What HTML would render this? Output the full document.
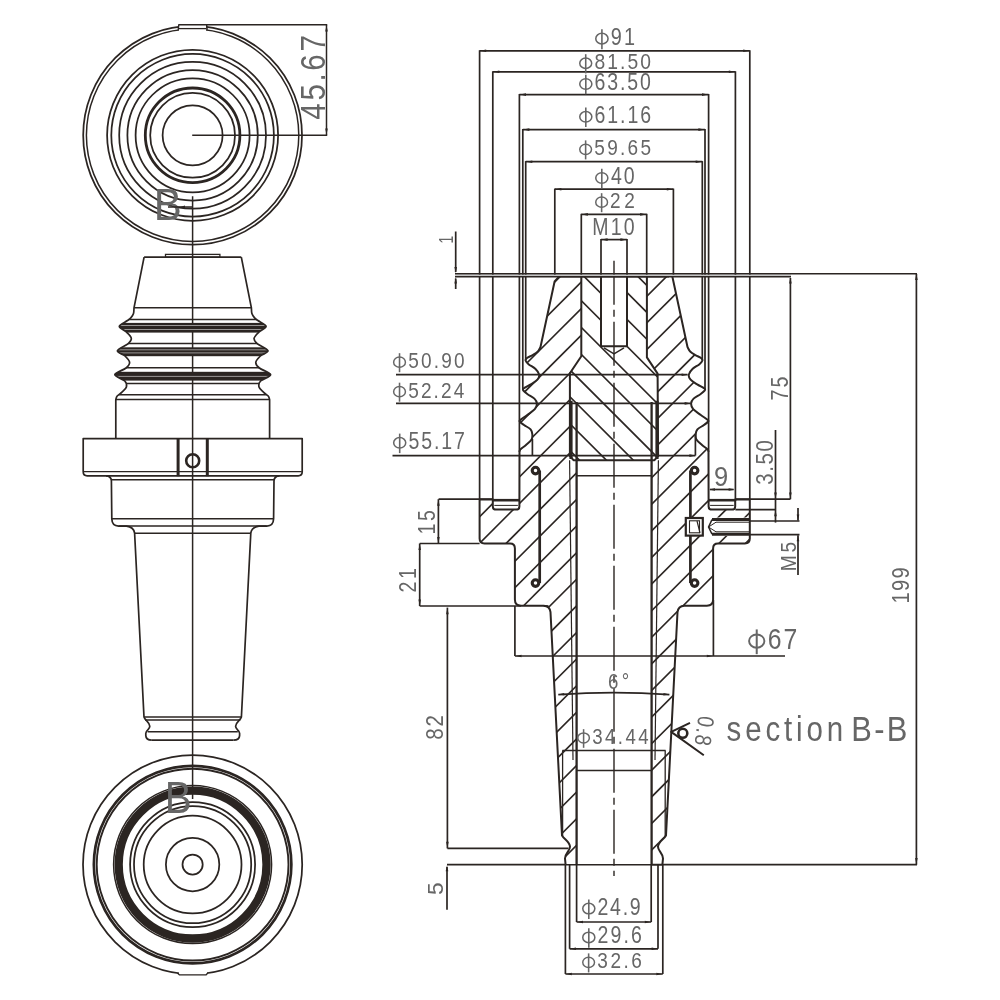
<!DOCTYPE html>
<html><head><meta charset="utf-8"><style>
html,body{margin:0;padding:0;background:#fff;}
svg{display:block;will-change:transform;}
text{font-family:"Liberation Sans",sans-serif;}
</style></head><body>
<svg width="1000" height="1000" viewBox="0 0 1000 1000">
<rect width="1000" height="1000" fill="#fff"/>
<circle cx="192.6" cy="135.3" r="109.4" fill="none" stroke="#2b2522" stroke-width="1.75"/>
<circle cx="192.6" cy="135.3" r="106.2" fill="none" stroke="#2b2522" stroke-width="1.5"/>
<circle cx="192.6" cy="135.3" r="85.5" fill="none" stroke="#2b2522" stroke-width="1.75"/>
<circle cx="192.6" cy="135.3" r="81.3" fill="none" stroke="#2b2522" stroke-width="1.75"/>
<circle cx="192.6" cy="135.3" r="73.4" fill="none" stroke="#2b2522" stroke-width="1.75"/>
<circle cx="192.6" cy="135.3" r="65.2" fill="none" stroke="#2b2522" stroke-width="1.75"/>
<circle cx="192.6" cy="135.3" r="57" fill="none" stroke="#2b2522" stroke-width="1.75"/>
<circle cx="192.6" cy="135.3" r="47.3" fill="none" stroke="#2b2522" stroke-width="2.8"/>
<circle cx="192.6" cy="135.3" r="42.4" fill="none" stroke="#2b2522" stroke-width="1.75"/>
<circle cx="192.6" cy="135.3" r="30" fill="none" stroke="#2b2522" stroke-width="1.75"/>
<rect x="179" y="22" width="27" height="9" fill="#fff"/>
<path d="M178.2 29.8 L178.8 24.7 L206.6 24.7 L207.2 29.8" fill="none" stroke="#2b2522" stroke-width="1.4" stroke-linejoin="round"/>
<line x1="178.8" y1="28.6" x2="206.6" y2="28.6" stroke="#2b2522" stroke-width="1.3"/>
<line x1="206.6" y1="24.7" x2="327.2" y2="24.7" stroke="#2b2522" stroke-width="1.6"/>
<line x1="192.2" y1="135.2" x2="327.2" y2="135.2" stroke="#2b2522" stroke-width="1.6"/>
<line x1="326.5" y1="24.7" x2="326.5" y2="135.2" stroke="#2b2522" stroke-width="1.5"/>
<path d="M326.5 25.4 L327.8 31.4 L325.2 31.4Z" fill="#2b2522"/>
<path d="M326.5 134.5 L325.2 128.5 L327.8 128.5Z" fill="#2b2522"/>
<text x="0" y="0" transform="translate(324.7 119.68) rotate(-90) scale(0.84 1)" font-size="35.17" fill="#666666" textLength="100.67" lengthAdjust="spacing">45.67</text>
<text x="0" y="0" transform="translate(153.78 219.5) scale(0.95 1)" font-size="44.33" fill="#666666">B</text>
<line x1="168" y1="207" x2="192.6" y2="207" stroke="#2b2522" stroke-width="1.5"/>
<path d="M180 207 L185 205.6 L185 208.4Z" fill="#2b2522"/>
<line x1="192.6" y1="196.2" x2="192.6" y2="799" stroke="#2b2522" stroke-width="1.5"/>
<defs><clipPath id="sideclip"><path d="M144.1 257.2 L134 307.8 C133.92 308.75 134 311.87 133.5 313.5 C133 315.13 132 316.43 131 317.6 C130 318.77 129.45 319.05 127.5 320.5 C125.55 321.95 119.5 324.38 119.3 326.3 C119.1 328.22 124.3 330.02 126.3 332 C128.3 333.98 130.98 336.27 131.3 338.2 C131.62 340.13 130.52 341.52 128.2 343.6 C125.88 345.68 117.93 348.63 117.4 350.7 C116.87 352.77 122.97 354.05 125 356 C127.03 357.95 129.43 360.4 129.6 362.4 C129.77 364.4 128.47 365.95 126 368 C123.53 370.05 115 372.53 114.8 374.7 C114.6 376.87 122.87 378.95 124.8 381 C126.73 383.05 126.87 385.13 126.4 387 C125.93 388.87 123.53 390.7 122 392.2 C120.47 393.7 118.23 394.77 117.2 396 C116.17 397.23 116.03 399 115.8 399.6 L115.8 438.6 L269.6 438.6 L269.6 399.6 C269.37 399 269.23 397.23 268.2 396 C267.17 394.77 264.93 393.7 263.4 392.2 C261.87 390.7 259.47 388.87 259 387 C258.53 385.13 258.67 383.05 260.6 381 C262.53 378.95 270.8 376.87 270.6 374.7 C270.4 372.53 261.87 370.05 259.4 368 C256.93 365.95 255.63 364.4 255.8 362.4 C255.97 360.4 258.37 357.95 260.4 356 C262.43 354.05 268.53 352.77 268 350.7 C267.47 348.63 259.52 345.68 257.2 343.6 C254.88 341.52 253.78 340.13 254.1 338.2 C254.42 336.27 257.1 333.98 259.1 332 C261.1 330.02 266.3 328.22 266.1 326.3 C265.9 324.38 259.85 321.95 257.9 320.5 C255.95 319.05 255.4 318.77 254.4 317.6 C253.4 316.43 252.4 315.13 251.9 313.5 C251.4 311.87 251.48 308.75 251.4 307.8 L241.3 257.2Z"/></clipPath></defs>
<g clip-path="url(#sideclip)">
<rect x="100" y="322.9" width="190" height="9.7" fill="#2b2522"/>
<rect x="100" y="347.3" width="190" height="8.9" fill="#2b2522"/>
<rect x="100" y="371.8" width="190" height="8.8" fill="#2b2522"/>
<line x1="100" y1="325.5" x2="290" y2="325.5" stroke="#fff" stroke-width="0.7" stroke-opacity="0.75"/>
<line x1="100" y1="329.5" x2="290" y2="329.5" stroke="#fff" stroke-width="0.7" stroke-opacity="0.75"/>
<line x1="100" y1="349.8" x2="290" y2="349.8" stroke="#fff" stroke-width="0.7" stroke-opacity="0.75"/>
<line x1="100" y1="352.9" x2="290" y2="352.9" stroke="#fff" stroke-width="0.7" stroke-opacity="0.75"/>
<line x1="100" y1="376.4" x2="290" y2="376.4" stroke="#fff" stroke-width="0.7" stroke-opacity="0.75"/>
</g>
<path d="M144.1 257.2 L134.0 307.8 C133.92 308.75 134 311.87 133.5 313.5 C133 315.13 132 316.43 131 317.6 C130 318.77 129.45 319.05 127.5 320.5 C125.55 321.95 119.5 324.38 119.3 326.3 C119.1 328.22 124.3 330.02 126.3 332 C128.3 333.98 130.98 336.27 131.3 338.2 C131.62 340.13 130.52 341.52 128.2 343.6 C125.88 345.68 117.93 348.63 117.4 350.7 C116.87 352.77 122.97 354.05 125 356 C127.03 357.95 129.43 360.4 129.6 362.4 C129.77 364.4 128.47 365.95 126 368 C123.53 370.05 115 372.53 114.8 374.7 C114.6 376.87 122.87 378.95 124.8 381 C126.73 383.05 126.87 385.13 126.4 387 C125.93 388.87 123.53 390.7 122 392.2 C120.47 393.7 118.23 394.77 117.2 396 C116.17 397.23 116.03 399 115.8 399.6 L115.8 438.6" fill="none" stroke="#2b2522" stroke-width="1.7" stroke-linejoin="round"/>
<path d="M241.3 257.2 L251.4 307.8 C251.48 308.75 251.4 311.87 251.9 313.5 C252.4 315.13 253.4 316.43 254.4 317.6 C255.4 318.77 255.95 319.05 257.9 320.5 C259.85 321.95 265.9 324.38 266.1 326.3 C266.3 328.22 261.1 330.02 259.1 332 C257.1 333.98 254.42 336.27 254.1 338.2 C253.78 340.13 254.88 341.52 257.2 343.6 C259.52 345.68 267.47 348.63 268 350.7 C268.53 352.77 262.43 354.05 260.4 356 C258.37 357.95 255.97 360.4 255.8 362.4 C255.63 364.4 256.93 365.95 259.4 368 C261.87 370.05 270.4 372.53 270.6 374.7 C270.8 376.87 262.53 378.95 260.6 381 C258.67 383.05 258.53 385.13 259 387 C259.47 388.87 261.87 390.7 263.4 392.2 C264.93 393.7 267.17 394.77 268.2 396 C269.23 397.23 269.37 399 269.6 399.6 L269.6 438.6" fill="none" stroke="#2b2522" stroke-width="1.7" stroke-linejoin="round"/>
<rect x="165.5" y="254.4" width="54.4" height="2.8" fill="none" stroke="#2b2522" stroke-width="1.3"/>
<line x1="144.1" y1="257.2" x2="241.3" y2="257.2" stroke="#2b2522" stroke-width="1.7"/>
<g clip-path="url(#sideclip)">
<line x1="100" y1="307.8" x2="290" y2="307.8" stroke="#2b2522" stroke-width="1.5"/>
<line x1="100" y1="319.5" x2="290" y2="319.5" stroke="#2b2522" stroke-width="1.5"/>
<line x1="100" y1="343.6" x2="290" y2="343.6" stroke="#2b2522" stroke-width="1.5"/>
<line x1="100" y1="367.7" x2="290" y2="367.7" stroke="#2b2522" stroke-width="1.5"/>
<line x1="100" y1="383.4" x2="290" y2="383.4" stroke="#2b2522" stroke-width="1.5"/>
<line x1="100" y1="394.8" x2="290" y2="394.8" stroke="#2b2522" stroke-width="1.5"/>
<line x1="100" y1="399.4" x2="290" y2="399.4" stroke="#2b2522" stroke-width="1.5"/>
</g>
<path d="M83.2 438.6 L302.2 438.6 L302.2 471.8 Q302.2 475.8 298.2 475.8 L87.2 475.8 Q83.2 475.8 83.2 471.8 Z" fill="none" stroke="#2b2522" stroke-width="1.7" stroke-linejoin="round"/>
<line x1="83.6" y1="471.6" x2="301.8" y2="471.6" stroke="#2b2522" stroke-width="1.2"/>
<line x1="178.1" y1="438.6" x2="178.1" y2="476.2" stroke="#2b2522" stroke-width="3.0"/>
<line x1="207.3" y1="438.6" x2="207.3" y2="476.2" stroke="#2b2522" stroke-width="3.0"/>
<circle cx="192.7" cy="460.7" r="6.5" fill="none" stroke="#2b2522" stroke-width="2.6"/>
<path d="M106 475.8 Q111.2 476 111.4 480.8 L111.8 518.8 Q112 526 118.6 526.1 L126.5 526.2 Q133.6 527 134.6 533 L144.0 717.0 C145 720.5 149.6 722 149.8 726.2 C149.9 729.5 146 730 145.8 733.2 L145.8 735.6 Q146 740 151.8 740.1" fill="none" stroke="#2b2522" stroke-width="1.7" stroke-linejoin="round"/>
<path d="M279.4 475.8 Q274.2 476 274 480.8 L273.6 518.8 Q273.4 526 266.8 526.1 L258.9 526.2 Q251.8 527 250.8 533 L241.4 717.0 C240.4 720.5 235.8 722 235.6 726.2 C235.5 729.5 239.4 730 239.6 733.2 L239.6 735.6 Q239.4 740 233.6 740.1" fill="none" stroke="#2b2522" stroke-width="1.7" stroke-linejoin="round"/>
<line x1="151.8" y1="740.1" x2="233.6" y2="740.1" stroke="#2b2522" stroke-width="1.7"/>
<line x1="111.2" y1="479.8" x2="274.2" y2="479.8" stroke="#2b2522" stroke-width="1.5"/>
<line x1="111.8" y1="518.8" x2="273.6" y2="518.8" stroke="#2b2522" stroke-width="1.5"/>
<line x1="118.6" y1="526.1" x2="266.8" y2="526.1" stroke="#2b2522" stroke-width="1.5"/>
<line x1="134.6" y1="533.2" x2="250.8" y2="533.2" stroke="#2b2522" stroke-width="1.5"/>
<line x1="144" y1="716.9" x2="241.4" y2="716.9" stroke="#2b2522" stroke-width="1.5"/>
<line x1="145" y1="720" x2="240.4" y2="720" stroke="#2b2522" stroke-width="1.5"/>
<line x1="147.6" y1="731.8" x2="237.8" y2="731.8" stroke="#2b2522" stroke-width="1.5"/>
<circle cx="192.6" cy="864.6" r="109.6" fill="none" stroke="#2b2522" stroke-width="1.75"/>
<circle cx="192.6" cy="864.6" r="98.75" fill="none" stroke="#2b2522" stroke-width="2.7"/>
<circle cx="192.6" cy="864.6" r="95.9" fill="none" stroke="#2b2522" stroke-width="1.9"/>
<circle cx="192.6" cy="864.6" r="79" fill="none" stroke="#2b2522" stroke-width="1.5"/>
<circle cx="192.6" cy="864.6" r="73.9" fill="none" stroke="#2b2522" stroke-width="8.3"/>
<circle cx="192.6" cy="864.6" r="62.5" fill="none" stroke="#2b2522" stroke-width="1.75"/>
<circle cx="192.6" cy="864.6" r="58.6" fill="none" stroke="#2b2522" stroke-width="1.75"/>
<circle cx="192.6" cy="864.6" r="48.9" fill="none" stroke="#2b2522" stroke-width="1.75"/>
<circle cx="192.6" cy="864.6" r="26.7" fill="none" stroke="#2b2522" stroke-width="1.75"/>
<circle cx="192.6" cy="864.6" r="10.1" fill="none" stroke="#2b2522" stroke-width="1.75"/>
<rect x="179" y="972" width="28" height="4" fill="#fff"/>
<path d="M177.4 973 L179.3 974.8 L206.2 974.8 L207.8 973" fill="none" stroke="#2b2522" stroke-width="1.3" stroke-linejoin="round"/>
<text x="0" y="0" transform="translate(164.8 813.3) scale(0.92 1)" font-size="43.9" fill="#666666">B</text>
<defs>
<clipPath id="bodyclip"><path clip-rule="evenodd" d="M559 276.8 L554.6 281.5 L540.5 347 L540.21 347.54 L539.84 348.29 L539.39 349.18 L538.86 350.12 L538.26 351.02 L537.6 351.8 L536.84 352.47 L535.98 353.09 L535.04 353.68 L534.08 354.24 L533.12 354.78 L532.2 355.3 L531.28 355.8 L530.31 356.26 L529.35 356.71 L528.44 357.14 L527.64 357.57 L527 358 L526.49 358.43 L526.08 358.83 L525.77 359.23 L525.59 359.65 L525.52 360.1 L525.6 360.6 L525.83 361.16 L526.2 361.76 L526.71 362.39 L527.32 363.04 L528.02 363.72 L528.8 364.4 L529.72 365.08 L530.82 365.77 L532.01 366.48 L533.2 367.21 L534.33 367.98 L535.3 368.8 L536.17 369.69 L537 370.66 L537.77 371.66 L538.42 372.67 L538.91 373.66 L539.2 374.6 L539.29 375.48 L539.2 376.33 L538.96 377.16 L538.57 377.98 L538.04 378.79 L537.4 379.6 L536.58 380.42 L535.58 381.24 L534.44 382.05 L533.22 382.85 L531.99 383.64 L530.8 384.4 L529.55 385.16 L528.19 385.93 L526.8 386.68 L525.5 387.39 L524.4 388.03 L523.6 388.6 L523.11 389.04 L522.85 389.37 L522.79 389.64 L522.88 389.9 L523.1 390.2 L523.4 390.6 L523.82 391.1 L524.38 391.65 L525.06 392.25 L525.84 392.88 L526.7 393.54 L527.6 394.2 L528.63 394.88 L529.83 395.59 L531.11 396.32 L532.36 397.07 L533.49 397.83 L534.4 398.6 L535.12 399.37 L535.72 400.13 L536.21 400.91 L536.57 401.71 L536.8 402.54 L536.9 403.4 L536.88 404.31 L536.74 405.26 L536.48 406.24 L536.08 407.23 L535.52 408.22 L534.8 409.2 L533.84 410.18 L532.65 411.16 L531.31 412.15 L529.89 413.13 L528.5 414.08 L527.2 415 L525.92 415.92 L524.57 416.84 L523.24 417.75 L522.01 418.6 L520.97 419.36 L520.2 420 L519.72 420.47 L519.47 420.79 L519.41 421.01 L519.5 421.21 L519.71 421.46 L520 421.8 L520.39 422.24 L520.93 422.72 L521.58 423.24 L522.32 423.79 L523.13 424.38 L524 425 L525.01 425.66 L526.19 426.36 L527.44 427.1 L528.67 427.86 L529.75 428.63 L530.6 429.4 L531.19 430.17 L531.62 430.96 L531.91 431.75 L532.09 432.56 L532.21 433.37 L532.3 434.2 L532.38 435.04 L532.43 435.89 L532.41 436.75 L532.29 437.62 L532.03 438.51 L531.6 439.4 L530.95 440.32 L530.1 441.28 L529.11 442.25 L528.05 443.21 L526.99 444.13 L526 445 L525.01 445.82 L523.96 446.62 L522.91 447.39 L521.92 448.11 L521.06 448.78 L520.4 449.4 L519.97 449.97 L519.72 450.5 L519.6 450.98 L519.56 451.39 L519.54 451.74 L519.5 452 L519.4 506.4 L518.5 508.8 L516.2 509.6 L496 509.6 L493.6 508.8 L492.8 506.4 L492.8 499.4 L479.6 499.4 L479.6 538.6 L481 542.1 L484.5 543.5 L510 543.5 L513.5 544.9 L514.9 548.4 L514.9 599.6 L516.7 604 L521.1 605.8 L543.7 605.8 L548 607.6 L550.5 612.2 L562 835.4 L566.5 840 L569.6 843 L570 846.6 L568.5 851 L565.8 854 L565 858.6 L565.6 864.7 L662.4 864.7 L663 858.6 L662.2 854 L659.5 851 L658 846.6 L658.4 843 L661.5 840 L666 835.4 L677.5 612.2 L680 607.6 L684.3 605.8 L706.9 605.8 L711.3 604 L713.1 599.6 L713.1 548.4 L714.5 544.9 L718 543.5 L744.9 543.5 L748.4 542.1 L749.8 538.6 L749.8 499.4 L735.2 499.4 L735.2 506.4 L734.4 508.8 L732 509.6 L711.8 509.6 L709.5 508.8 L708.6 506.4 L708.5 452 L708.46 451.74 L708.44 451.39 L708.4 450.98 L708.28 450.5 L708.03 449.97 L707.6 449.4 L706.94 448.78 L706.08 448.11 L705.09 447.39 L704.04 446.62 L702.99 445.82 L702 445 L701.01 444.13 L699.95 443.21 L698.89 442.25 L697.9 441.28 L697.05 440.32 L696.4 439.4 L695.97 438.51 L695.71 437.62 L695.59 436.75 L695.57 435.89 L695.62 435.04 L695.7 434.2 L695.79 433.37 L695.91 432.56 L696.09 431.75 L696.38 430.96 L696.81 430.17 L697.4 429.4 L698.25 428.63 L699.33 427.86 L700.56 427.1 L701.81 426.36 L702.99 425.66 L704 425 L704.87 424.38 L705.68 423.79 L706.42 423.24 L707.07 422.72 L707.61 422.24 L708 421.8 L708.29 421.46 L708.5 421.21 L708.59 421.01 L708.53 420.79 L708.28 420.47 L707.8 420 L707.03 419.36 L705.99 418.6 L704.76 417.75 L703.43 416.84 L702.08 415.92 L700.8 415 L699.5 414.08 L698.11 413.13 L696.69 412.15 L695.35 411.16 L694.16 410.18 L693.2 409.2 L692.48 408.22 L691.92 407.23 L691.52 406.24 L691.26 405.26 L691.12 404.31 L691.1 403.4 L691.2 402.54 L691.43 401.71 L691.79 400.91 L692.28 400.13 L692.88 399.37 L693.6 398.6 L694.51 397.83 L695.64 397.07 L696.89 396.32 L698.17 395.59 L699.37 394.88 L700.4 394.2 L701.3 393.54 L702.16 392.88 L702.94 392.25 L703.62 391.65 L704.18 391.1 L704.6 390.6 L704.9 390.2 L705.12 389.9 L705.21 389.64 L705.15 389.37 L704.89 389.04 L704.4 388.6 L703.6 388.03 L702.5 387.39 L701.2 386.68 L699.81 385.93 L698.45 385.16 L697.2 384.4 L696.01 383.64 L694.78 382.85 L693.56 382.05 L692.42 381.24 L691.42 380.42 L690.6 379.6 L689.96 378.79 L689.43 377.98 L689.04 377.16 L688.8 376.33 L688.71 375.48 L688.8 374.6 L689.09 373.66 L689.58 372.67 L690.23 371.66 L691 370.66 L691.83 369.69 L692.7 368.8 L693.67 367.98 L694.8 367.21 L695.99 366.48 L697.18 365.77 L698.28 365.08 L699.2 364.4 L699.98 363.72 L700.68 363.04 L701.29 362.39 L701.8 361.76 L702.17 361.16 L702.4 360.6 L702.48 360.1 L702.41 359.65 L702.23 359.23 L701.92 358.83 L701.51 358.43 L701 358 L700.36 357.57 L699.56 357.14 L698.65 356.71 L697.69 356.26 L696.72 355.8 L695.8 355.3 L694.88 354.78 L693.92 354.24 L692.96 353.68 L692.02 353.09 L691.16 352.47 L690.4 351.8 L689.74 351.02 L689.14 350.12 L688.61 349.18 L688.16 348.29 L687.79 347.54 L687.5 347 L673.4 281.5 L672.4 276.8Z M581.3 276.8 L581.3 356.2 L569.9 373.2 L569.9 456 L573.5 460.2 L654.5 460.2 L658.1 456 L657.6 373.6 L646.9 357.4 L646.9 276.8Z M576.6 460.2 L576.6 864.7 L651.6 864.7 L651.6 460.2Z M685.6 517.6 L685.6 536 L749.8 536 L749.8 517.6Z"/></clipPath>
<clipPath id="studclip"><path clip-rule="evenodd" d="M581.3 276.8 L581.3 356.2 L569.9 373.2 L569.9 456 L573.5 460.2 L654.5 460.2 L658.1 456 L657.6 373.6 L646.9 357.4 L646.9 276.8Z M601 276.8 L601 346.2 L614 353.8 L627 346.2 L627 276.8Z"/></clipPath>
</defs>
<g clip-path="url(#bodyclip)">
<line x1="470" y1="260.3" x2="760" y2="-29.7" stroke="#2b2522" stroke-width="1.65"/>
<line x1="470" y1="286.9" x2="760" y2="-3.1" stroke="#2b2522" stroke-width="1.65"/>
<line x1="470" y1="313.5" x2="760" y2="23.5" stroke="#2b2522" stroke-width="1.65"/>
<line x1="470" y1="340.1" x2="760" y2="50.1" stroke="#2b2522" stroke-width="1.65"/>
<line x1="470" y1="366.7" x2="760" y2="76.7" stroke="#2b2522" stroke-width="1.65"/>
<line x1="470" y1="393.3" x2="760" y2="103.3" stroke="#2b2522" stroke-width="1.65"/>
<line x1="470" y1="419.9" x2="760" y2="129.9" stroke="#2b2522" stroke-width="1.65"/>
<line x1="470" y1="446.5" x2="760" y2="156.5" stroke="#2b2522" stroke-width="1.65"/>
<line x1="470" y1="473.1" x2="760" y2="183.1" stroke="#2b2522" stroke-width="1.65"/>
<line x1="470" y1="499.7" x2="760" y2="209.7" stroke="#2b2522" stroke-width="1.65"/>
<line x1="470" y1="526.3" x2="760" y2="236.3" stroke="#2b2522" stroke-width="1.65"/>
<line x1="470" y1="552.9" x2="760" y2="262.9" stroke="#2b2522" stroke-width="1.65"/>
<line x1="470" y1="579.5" x2="760" y2="289.5" stroke="#2b2522" stroke-width="1.65"/>
<line x1="470" y1="606.1" x2="760" y2="316.1" stroke="#2b2522" stroke-width="1.65"/>
<line x1="470" y1="632.7" x2="760" y2="342.7" stroke="#2b2522" stroke-width="1.65"/>
<line x1="470" y1="659.3" x2="760" y2="369.3" stroke="#2b2522" stroke-width="1.65"/>
<line x1="470" y1="685.9" x2="760" y2="395.9" stroke="#2b2522" stroke-width="1.65"/>
<line x1="470" y1="712.5" x2="760" y2="422.5" stroke="#2b2522" stroke-width="1.65"/>
<line x1="470" y1="739.1" x2="760" y2="449.1" stroke="#2b2522" stroke-width="1.65"/>
<line x1="470" y1="765.7" x2="760" y2="475.7" stroke="#2b2522" stroke-width="1.65"/>
<line x1="470" y1="792.3" x2="760" y2="502.3" stroke="#2b2522" stroke-width="1.65"/>
<line x1="470" y1="818.9" x2="760" y2="528.9" stroke="#2b2522" stroke-width="1.65"/>
<line x1="470" y1="845.5" x2="760" y2="555.5" stroke="#2b2522" stroke-width="1.65"/>
<line x1="470" y1="872.1" x2="760" y2="582.1" stroke="#2b2522" stroke-width="1.65"/>
<line x1="470" y1="898.7" x2="760" y2="608.7" stroke="#2b2522" stroke-width="1.65"/>
<line x1="470" y1="925.3" x2="760" y2="635.3" stroke="#2b2522" stroke-width="1.65"/>
<line x1="470" y1="951.9" x2="760" y2="661.9" stroke="#2b2522" stroke-width="1.65"/>
<line x1="470" y1="978.5" x2="760" y2="688.5" stroke="#2b2522" stroke-width="1.65"/>
<line x1="470" y1="1005.1" x2="760" y2="715.1" stroke="#2b2522" stroke-width="1.65"/>
<line x1="470" y1="1031.7" x2="760" y2="741.7" stroke="#2b2522" stroke-width="1.65"/>
<line x1="470" y1="1058.3" x2="760" y2="768.3" stroke="#2b2522" stroke-width="1.65"/>
<line x1="470" y1="1084.9" x2="760" y2="794.9" stroke="#2b2522" stroke-width="1.65"/>
<line x1="470" y1="1111.5" x2="760" y2="821.5" stroke="#2b2522" stroke-width="1.65"/>
<line x1="470" y1="1138.1" x2="760" y2="848.1" stroke="#2b2522" stroke-width="1.65"/>
<line x1="470" y1="1164.7" x2="760" y2="874.7" stroke="#2b2522" stroke-width="1.65"/>
</g>
<g clip-path="url(#studclip)">
<line x1="560" y1="37.2" x2="670" y2="147.2" stroke="#2b2522" stroke-width="1.65"/>
<line x1="560" y1="64.1" x2="670" y2="174.1" stroke="#2b2522" stroke-width="1.65"/>
<line x1="560" y1="91" x2="670" y2="201" stroke="#2b2522" stroke-width="1.65"/>
<line x1="560" y1="117.9" x2="670" y2="227.9" stroke="#2b2522" stroke-width="1.65"/>
<line x1="560" y1="144.8" x2="670" y2="254.8" stroke="#2b2522" stroke-width="1.65"/>
<line x1="560" y1="171.7" x2="670" y2="281.7" stroke="#2b2522" stroke-width="1.65"/>
<line x1="560" y1="198.6" x2="670" y2="308.6" stroke="#2b2522" stroke-width="1.65"/>
<line x1="560" y1="225.5" x2="670" y2="335.5" stroke="#2b2522" stroke-width="1.65"/>
<line x1="560" y1="252.4" x2="670" y2="362.4" stroke="#2b2522" stroke-width="1.65"/>
<line x1="560" y1="279.3" x2="670" y2="389.3" stroke="#2b2522" stroke-width="1.65"/>
<line x1="560" y1="306.2" x2="670" y2="416.2" stroke="#2b2522" stroke-width="1.65"/>
<line x1="560" y1="333.1" x2="670" y2="443.1" stroke="#2b2522" stroke-width="1.65"/>
<line x1="560" y1="360" x2="670" y2="470" stroke="#2b2522" stroke-width="1.65"/>
<line x1="560" y1="386.9" x2="670" y2="496.9" stroke="#2b2522" stroke-width="1.65"/>
<line x1="560" y1="413.8" x2="670" y2="523.8" stroke="#2b2522" stroke-width="1.65"/>
<line x1="560" y1="440.7" x2="670" y2="550.7" stroke="#2b2522" stroke-width="1.65"/>
<line x1="560" y1="467.6" x2="670" y2="577.6" stroke="#2b2522" stroke-width="1.65"/>
<line x1="560" y1="494.5" x2="670" y2="604.5" stroke="#2b2522" stroke-width="1.65"/>
<line x1="560" y1="521.4" x2="670" y2="631.4" stroke="#2b2522" stroke-width="1.65"/>
<line x1="560" y1="548.3" x2="670" y2="658.3" stroke="#2b2522" stroke-width="1.65"/>
<line x1="560" y1="575.2" x2="670" y2="685.2" stroke="#2b2522" stroke-width="1.65"/>
<line x1="560" y1="602.1" x2="670" y2="712.1" stroke="#2b2522" stroke-width="1.65"/>
<line x1="560" y1="629" x2="670" y2="739" stroke="#2b2522" stroke-width="1.65"/>
<line x1="560" y1="655.9" x2="670" y2="765.9" stroke="#2b2522" stroke-width="1.65"/>
</g>
<path d="M559 276.8 L554.6 281.5 L540.5 347 C540.02 347.8 538.98 350.42 537.6 351.8 C536.22 353.18 533.97 354.27 532.2 355.3 C530.43 356.33 528.1 357.12 527 358 C525.9 358.88 525.3 359.53 525.6 360.6 C525.9 361.67 527.18 363.03 528.8 364.4 C530.42 365.77 533.57 367.1 535.3 368.8 C537.03 370.5 538.85 372.8 539.2 374.6 C539.55 376.4 538.8 377.97 537.4 379.6 C536 381.23 533.1 382.9 530.8 384.4 C528.5 385.9 524.83 387.57 523.6 388.6 C522.37 389.63 522.73 389.67 523.4 390.6 C524.07 391.53 525.77 392.87 527.6 394.2 C529.43 395.53 532.85 397.07 534.4 398.6 C535.95 400.13 536.83 401.63 536.9 403.4 C536.97 405.17 536.42 407.27 534.8 409.2 C533.18 411.13 529.63 413.2 527.2 415 C524.77 416.8 521.4 418.87 520.2 420 C519 421.13 519.37 420.97 520 421.8 C520.63 422.63 522.23 423.73 524 425 C525.77 426.27 529.22 427.87 530.6 429.4 C531.98 430.93 532.13 432.53 532.3 434.2 C532.47 435.87 532.65 437.6 531.6 439.4 C530.55 441.2 527.87 443.33 526 445 C524.13 446.67 521.48 448.23 520.4 449.4 C519.32 450.57 519.65 451.57 519.5 452 L519.4 506.4 Q519.4 509.6 516.2 509.6 L496 509.6 Q492.8 509.6 492.8 506.4 L492.8 499.4 L479.6 499.4 L479.6 538.6 Q479.6 543.5 484.5 543.5 L510 543.5 Q514.9 543.5 514.9 548.4 L514.9 599.6 Q514.9 605.8 521.1 605.8 L543.7 605.8 Q549.8 606 550.5 612.2 L562 835.4 C564.5 839.5 569.6 841.5 570 846.6 C570.2 851 565 853 565 858.6 L565.6 864.7" fill="none" stroke="#2b2522" stroke-width="2.0" stroke-linejoin="round"/>
<path d="M672.4 276.8 L673.4 281.5 L687.5 347 C687.98 347.8 689.02 350.42 690.4 351.8 C691.78 353.18 694.03 354.27 695.8 355.3 C697.57 356.33 699.9 357.12 701 358 C702.1 358.88 702.7 359.53 702.4 360.6 C702.1 361.67 700.82 363.03 699.2 364.4 C697.58 365.77 694.43 367.1 692.7 368.8 C690.97 370.5 689.15 372.8 688.8 374.6 C688.45 376.4 689.2 377.97 690.6 379.6 C692 381.23 694.9 382.9 697.2 384.4 C699.5 385.9 703.17 387.57 704.4 388.6 C705.63 389.63 705.27 389.67 704.6 390.6 C703.93 391.53 702.23 392.87 700.4 394.2 C698.57 395.53 695.15 397.07 693.6 398.6 C692.05 400.13 691.17 401.63 691.1 403.4 C691.03 405.17 691.58 407.27 693.2 409.2 C694.82 411.13 698.37 413.2 700.8 415 C703.23 416.8 706.6 418.87 707.8 420 C709 421.13 708.63 420.97 708 421.8 C707.37 422.63 705.77 423.73 704 425 C702.23 426.27 698.78 427.87 697.4 429.4 C696.02 430.93 695.87 432.53 695.7 434.2 C695.53 435.87 695.35 437.6 696.4 439.4 C697.45 441.2 700.13 443.33 702 445 C703.87 446.67 706.52 448.23 707.6 449.4 C708.68 450.57 708.35 451.57 708.5 452 L708.6 506.4 Q708.6 509.6 711.8 509.6 L732 509.6 Q735.2 509.6 735.2 506.4 L735.2 499.4 L749.8 499.4 L749.8 538.6 Q749.8 543.5 744.9 543.5 L718 543.5 Q713.1 543.5 713.1 548.4 L713.1 599.6 Q713.1 605.8 706.9 605.8 L684.3 605.8 Q678.2 606 677.5 612.2 L666 835.4 C663.5 839.5 658.4 841.5 658 846.6 C657.8 851 663 853 663 858.6 L662.4 864.7" fill="none" stroke="#2b2522" stroke-width="2.0" stroke-linejoin="round"/>
<line x1="565.6" y1="864.7" x2="662.4" y2="864.7" stroke="#2b2522" stroke-width="1.5"/>
<line x1="559" y1="276.8" x2="669" y2="276.8" stroke="#2b2522" stroke-width="1.5"/>
<path d="M581.3 276.8 L581.3 356.2 L569.9 373.2 L569.9 456 L573.5 460.2 L654.5 460.2 L658.1 456 L657.6 373.6 L646.9 357.4 L646.9 276.8" fill="none" stroke="#2b2522" stroke-width="2.0" stroke-linejoin="round"/>
<path d="M601 276.8 L601 346.2 L627 346.2 L627 276.8" fill="none" stroke="#2b2522" stroke-width="2.0" stroke-linejoin="round"/>
<path d="M604 347.8 L614 353.8 L624 347.8" fill="none" stroke="#2b2522" stroke-width="1.4" stroke-linejoin="round"/>
<line x1="571" y1="400.8" x2="571" y2="459" stroke="#2b2522" stroke-width="3.2"/>
<line x1="657" y1="400.8" x2="657" y2="459" stroke="#2b2522" stroke-width="3.2"/>
<line x1="576.6" y1="402" x2="576.6" y2="864.7" stroke="#2b2522" stroke-width="2.3"/>
<line x1="651.6" y1="402" x2="651.6" y2="864.7" stroke="#2b2522" stroke-width="2.3"/>
<line x1="576.6" y1="475.8" x2="651.6" y2="475.8" stroke="#2b2522" stroke-width="1.5"/>
<line x1="569.6" y1="460.2" x2="573" y2="760" stroke="#2b2522" stroke-width="1.2"/>
<line x1="658.4" y1="460.2" x2="655" y2="760" stroke="#2b2522" stroke-width="1.2"/>
<line x1="492.8" y1="500.2" x2="519.4" y2="500.2" stroke="#2b2522" stroke-width="2.6"/>
<line x1="494.3" y1="505.4" x2="517.9" y2="505.4" stroke="#2b2522" stroke-width="1.0"/>
<line x1="708.6" y1="500.2" x2="735.2" y2="500.2" stroke="#2b2522" stroke-width="2.6"/>
<line x1="710.1" y1="505.4" x2="733.7" y2="505.4" stroke="#2b2522" stroke-width="1.0"/>
<line x1="539.7" y1="470.5" x2="539.7" y2="583" stroke="#2b2522" stroke-width="2.7"/>
<circle cx="535.5" cy="470.6" r="3.3" fill="none" stroke="#2b2522" stroke-width="3.1"/>
<circle cx="535.5" cy="583.1" r="3.3" fill="none" stroke="#2b2522" stroke-width="3.1"/>
<line x1="690.4" y1="470.5" x2="690.4" y2="583" stroke="#2b2522" stroke-width="2.7"/>
<circle cx="694.6" cy="470.6" r="3.3" fill="none" stroke="#2b2522" stroke-width="3.1"/>
<circle cx="694.6" cy="583.1" r="3.3" fill="none" stroke="#2b2522" stroke-width="3.1"/>
<line x1="712" y1="519.6" x2="749.8" y2="519.6" stroke="#2b2522" stroke-width="3.0"/>
<line x1="712" y1="534.2" x2="749.8" y2="534.2" stroke="#2b2522" stroke-width="3.0"/>
<line x1="716" y1="522.2" x2="749.8" y2="522.2" stroke="#2b2522" stroke-width="1.0"/>
<line x1="716" y1="531.8" x2="749.8" y2="531.8" stroke="#2b2522" stroke-width="1.0"/>
<path d="M712 519.6 L708.5 527 L712 534.2" fill="none" stroke="#2b2522" stroke-width="1.5" stroke-linejoin="round"/>
<path d="M708.5 527 L716 522.2" fill="none" stroke="#2b2522" stroke-width="1.0" stroke-linejoin="round"/>
<path d="M708.5 527 L716 531.8" fill="none" stroke="#2b2522" stroke-width="1.0" stroke-linejoin="round"/>
<rect x="685.8" y="518.0" width="17" height="17.6" fill="#fff" stroke="#2b2522" stroke-width="2.2"/>
<rect x="689.5" y="520.8" width="10" height="12" fill="none" stroke="#2b2522" stroke-width="1.1"/>
<path d="M697 521 L700 533" fill="none" stroke="#2b2522" stroke-width="1.2" stroke-linejoin="round"/>
<line x1="562.4" y1="750.4" x2="665.6" y2="750.4" stroke="#2b2522" stroke-width="1.5"/>
<line x1="576.6" y1="770.6" x2="651.6" y2="770.6" stroke="#2b2522" stroke-width="1.5"/>
<line x1="562.6" y1="750.4" x2="562.6" y2="836" stroke="#2b2522" stroke-width="1.3"/>
<line x1="665.2" y1="750.4" x2="665.2" y2="836" stroke="#2b2522" stroke-width="1.3"/>
<line x1="614" y1="260.8" x2="614" y2="876" stroke="#2b2522" stroke-width="1.4" stroke-dasharray="44 5 7 5"/>
<line x1="479.6" y1="50.8" x2="749.8" y2="50.8" stroke="#2b2522" stroke-width="1.7"/>
<line x1="479.6" y1="50.2" x2="479.6" y2="499.4" stroke="#2b2522" stroke-width="1.7"/>
<line x1="749.8" y1="50.2" x2="749.8" y2="499.4" stroke="#2b2522" stroke-width="1.7"/>
<path d="M480.2 50.8 L486.2 49.5 L486.2 52.1Z" fill="#2b2522"/>
<path d="M749.2 50.8 L743.2 52.1 L743.2 49.5Z" fill="#2b2522"/>
<line x1="492.8" y1="71.8" x2="735.4" y2="71.8" stroke="#2b2522" stroke-width="1.7"/>
<line x1="492.8" y1="71.2" x2="492.8" y2="499.4" stroke="#2b2522" stroke-width="1.7"/>
<line x1="735.4" y1="71.2" x2="735.4" y2="499.4" stroke="#2b2522" stroke-width="1.7"/>
<path d="M493.4 71.8 L499.4 70.5 L499.4 73.1Z" fill="#2b2522"/>
<path d="M734.8 71.8 L728.8 73.1 L728.8 70.5Z" fill="#2b2522"/>
<line x1="519.4" y1="94.6" x2="708.6" y2="94.6" stroke="#2b2522" stroke-width="1.7"/>
<line x1="519.4" y1="94" x2="519.4" y2="452" stroke="#2b2522" stroke-width="1.7"/>
<line x1="708.6" y1="94" x2="708.6" y2="452" stroke="#2b2522" stroke-width="1.7"/>
<path d="M520 94.6 L526 93.3 L526 95.9Z" fill="#2b2522"/>
<path d="M708 94.6 L702 95.9 L702 93.3Z" fill="#2b2522"/>
<line x1="522.8" y1="129.6" x2="705" y2="129.6" stroke="#2b2522" stroke-width="1.7"/>
<line x1="522.8" y1="129" x2="522.8" y2="389.6" stroke="#2b2522" stroke-width="1.7"/>
<line x1="705" y1="129" x2="705" y2="389.6" stroke="#2b2522" stroke-width="1.7"/>
<path d="M523.4 129.6 L529.4 128.3 L529.4 130.9Z" fill="#2b2522"/>
<path d="M704.4 129.6 L698.4 130.9 L698.4 128.3Z" fill="#2b2522"/>
<line x1="525.7" y1="161.7" x2="702.3" y2="161.7" stroke="#2b2522" stroke-width="1.7"/>
<line x1="525.7" y1="161.1" x2="525.7" y2="360" stroke="#2b2522" stroke-width="1.7"/>
<line x1="702.3" y1="161.1" x2="702.3" y2="360" stroke="#2b2522" stroke-width="1.7"/>
<path d="M526.3 161.7 L532.3 160.4 L532.3 163Z" fill="#2b2522"/>
<path d="M701.7 161.7 L695.7 163 L695.7 160.4Z" fill="#2b2522"/>
<line x1="554.8" y1="189.2" x2="673.4" y2="189.2" stroke="#2b2522" stroke-width="1.7"/>
<line x1="554.8" y1="188.6" x2="554.8" y2="276.8" stroke="#2b2522" stroke-width="1.7"/>
<line x1="673.4" y1="188.6" x2="673.4" y2="276.8" stroke="#2b2522" stroke-width="1.7"/>
<path d="M555.4 189.2 L561.4 187.9 L561.4 190.5Z" fill="#2b2522"/>
<path d="M672.8 189.2 L666.8 190.5 L666.8 187.9Z" fill="#2b2522"/>
<line x1="581.3" y1="214.4" x2="646.7" y2="214.4" stroke="#2b2522" stroke-width="1.7"/>
<line x1="581.3" y1="213.8" x2="581.3" y2="276.8" stroke="#2b2522" stroke-width="1.7"/>
<line x1="646.7" y1="213.8" x2="646.7" y2="276.8" stroke="#2b2522" stroke-width="1.7"/>
<path d="M581.9 214.4 L587.9 213.1 L587.9 215.7Z" fill="#2b2522"/>
<path d="M646.1 214.4 L640.1 215.7 L640.1 213.1Z" fill="#2b2522"/>
<line x1="601" y1="239.6" x2="627" y2="239.6" stroke="#2b2522" stroke-width="1.7"/>
<line x1="601" y1="239" x2="601" y2="276.8" stroke="#2b2522" stroke-width="1.7"/>
<line x1="627" y1="239" x2="627" y2="276.8" stroke="#2b2522" stroke-width="1.7"/>
<path d="M601.6 239.6 L607.6 238.3 L607.6 240.9Z" fill="#2b2522"/>
<path d="M626.4 239.6 L620.4 240.9 L620.4 238.3Z" fill="#2b2522"/>
<ellipse cx="601.91" cy="38.66" rx="6.13" ry="5.32" fill="none" stroke="#666666" stroke-width="1.54"/>
<line x1="601.91" y1="29.31" x2="601.91" y2="49.14" stroke="#666666" stroke-width="1.62"/>
<text x="0" y="0" transform="translate(610.81 44.75) scale(0.84 1)" font-size="23.62" fill="#666666" textLength="28.76" lengthAdjust="spacing">91</text>
<ellipse cx="585.72" cy="63.28" rx="5.96" ry="5.17" fill="none" stroke="#666666" stroke-width="1.5"/>
<line x1="585.72" y1="54.19" x2="585.72" y2="73.47" stroke="#666666" stroke-width="1.58"/>
<text x="0" y="0" transform="translate(594.44 69.2) scale(0.84 1)" font-size="22.97" fill="#666666" textLength="67.28" lengthAdjust="spacing">81.50</text>
<ellipse cx="585.8" cy="84" rx="6.04" ry="5.24" fill="none" stroke="#666666" stroke-width="1.52"/>
<line x1="585.8" y1="74.8" x2="585.8" y2="94.32" stroke="#666666" stroke-width="1.6"/>
<text x="0" y="0" transform="translate(594.49 90) scale(0.84 1)" font-size="23.26" fill="#666666" textLength="67.23" lengthAdjust="spacing">63.50</text>
<ellipse cx="585.8" cy="116.8" rx="6.04" ry="5.24" fill="none" stroke="#666666" stroke-width="1.52"/>
<line x1="585.8" y1="107.6" x2="585.8" y2="127.12" stroke="#666666" stroke-width="1.6"/>
<text x="0" y="0" transform="translate(594.49 122.8) scale(0.84 1)" font-size="23.26" fill="#666666" textLength="67.35" lengthAdjust="spacing">61.16</text>
<ellipse cx="585.63" cy="149.35" rx="5.89" ry="5.11" fill="none" stroke="#666666" stroke-width="1.48"/>
<line x1="585.63" y1="140.38" x2="585.63" y2="159.41" stroke="#666666" stroke-width="1.56"/>
<text x="0" y="0" transform="translate(594.31 155.2) scale(0.84 1)" font-size="22.67" fill="#666666" textLength="67.49" lengthAdjust="spacing">59.65</text>
<ellipse cx="601.8" cy="178" rx="6.04" ry="5.24" fill="none" stroke="#666666" stroke-width="1.52"/>
<line x1="601.8" y1="168.8" x2="601.8" y2="188.32" stroke="#666666" stroke-width="1.6"/>
<text x="0" y="0" transform="translate(611.03 184) scale(0.84 1)" font-size="23.26" fill="#666666" textLength="28.01" lengthAdjust="spacing">40</text>
<ellipse cx="601.63" cy="202.15" rx="5.89" ry="5.11" fill="none" stroke="#666666" stroke-width="1.48"/>
<line x1="601.63" y1="193.18" x2="601.63" y2="212.21" stroke="#666666" stroke-width="1.56"/>
<text x="0" y="0" transform="translate(610.11 208) scale(0.84 1)" font-size="22.67" fill="#666666" textLength="29.34" lengthAdjust="spacing">22</text>
<text x="0" y="0" transform="translate(592.2 234.8) scale(0.84 1)" font-size="23.26" fill="#666666" textLength="50.44" lengthAdjust="spacing">M10</text>
<line x1="455" y1="275.3" x2="791" y2="275.3" stroke="#c4c4c4" stroke-width="1.4"/>
<line x1="455" y1="273.8" x2="917" y2="273.8" stroke="#2b2522" stroke-width="1.6"/>
<line x1="455" y1="276.8" x2="791" y2="276.8" stroke="#2b2522" stroke-width="1.6"/>
<line x1="455.7" y1="231.5" x2="455.7" y2="272" stroke="#2b2522" stroke-width="1.7"/>
<line x1="455.7" y1="278.5" x2="455.7" y2="289" stroke="#2b2522" stroke-width="1.7"/>
<path d="M455.7 273 L454.4 267 L457 267Z" fill="#2b2522"/>
<path d="M455.7 277.4 L457 283.4 L454.4 283.4Z" fill="#2b2522"/>
<text x="0" y="0" transform="translate(453 243.56) rotate(-90) scale(0.66 1)" font-size="21.08" fill="#666666">1</text>
<line x1="396" y1="374.7" x2="687.6" y2="374.7" stroke="#2b2522" stroke-width="1.7"/>
<path d="M687.6 374.7 L681.6 376 L681.6 373.4Z" fill="#2b2522"/>
<line x1="396" y1="403.4" x2="690.6" y2="403.4" stroke="#2b2522" stroke-width="1.7"/>
<path d="M690.6 403.4 L684.6 404.7 L684.6 402.1Z" fill="#2b2522"/>
<line x1="392.5" y1="455.6" x2="695.4" y2="455.6" stroke="#2b2522" stroke-width="1.7"/>
<path d="M695.4 455.6 L689.4 456.9 L689.4 454.3Z" fill="#2b2522"/>
<line x1="695.4" y1="434" x2="695.4" y2="455.6" stroke="#2b2522" stroke-width="1.7"/>
<line x1="532.4" y1="439" x2="532.4" y2="455.6" stroke="#2b2522" stroke-width="1.7"/>
<ellipse cx="399.53" cy="362.15" rx="5.89" ry="5.11" fill="none" stroke="#666666" stroke-width="1.48"/>
<line x1="399.53" y1="353.18" x2="399.53" y2="372.21" stroke="#666666" stroke-width="1.56"/>
<text x="0" y="0" transform="translate(408.21 368) scale(0.84 1)" font-size="22.67" fill="#666666" textLength="67.07" lengthAdjust="spacing">50.90</text>
<ellipse cx="399.53" cy="391.65" rx="5.89" ry="5.11" fill="none" stroke="#666666" stroke-width="1.48"/>
<line x1="399.53" y1="382.68" x2="399.53" y2="401.71" stroke="#666666" stroke-width="1.56"/>
<text x="0" y="0" transform="translate(408.21 397.5) scale(0.84 1)" font-size="22.67" fill="#666666" textLength="66.85" lengthAdjust="spacing">52.24</text>
<ellipse cx="399.7" cy="442.8" rx="6.04" ry="5.24" fill="none" stroke="#666666" stroke-width="1.52"/>
<line x1="399.7" y1="433.6" x2="399.7" y2="453.12" stroke="#666666" stroke-width="1.6"/>
<text x="0" y="0" transform="translate(408.6 448.8) scale(0.84 1)" font-size="23.26" fill="#666666" textLength="66.89" lengthAdjust="spacing">55.17</text>
<line x1="438.6" y1="499.2" x2="492.8" y2="499.2" stroke="#2b2522" stroke-width="1.7"/>
<line x1="438.4" y1="499.2" x2="438.4" y2="543.5" stroke="#2b2522" stroke-width="1.7"/>
<path d="M438.4 499.8 L439.7 505.8 L437.1 505.8Z" fill="#2b2522"/>
<path d="M438.4 542.9 L437.1 536.9 L439.7 536.9Z" fill="#2b2522"/>
<text x="0" y="0" transform="translate(435 534.49) rotate(-90) scale(0.84 1)" font-size="23.26" fill="#666666" textLength="28.94" lengthAdjust="spacing">15</text>
<line x1="419.7" y1="543.5" x2="479.6" y2="543.5" stroke="#2b2522" stroke-width="1.7"/>
<line x1="419.7" y1="543.5" x2="419.7" y2="606" stroke="#2b2522" stroke-width="1.7"/>
<path d="M419.7 544.1 L421 550.1 L418.4 550.1Z" fill="#2b2522"/>
<path d="M419.7 605.4 L418.4 599.4 L421 599.4Z" fill="#2b2522"/>
<text x="0" y="0" transform="translate(416 592.48) rotate(-90) scale(0.84 1)" font-size="23.26" fill="#666666" textLength="29.09" lengthAdjust="spacing">21</text>
<line x1="419.7" y1="606" x2="521" y2="606" stroke="#2b2522" stroke-width="1.7"/>
<line x1="543.7" y1="606" x2="548.5" y2="606" stroke="#2b2522" stroke-width="1.7"/>
<line x1="447.4" y1="607.6" x2="447.4" y2="848.4" stroke="#2b2522" stroke-width="1.7"/>
<path d="M447.4 608.2 L448.7 614.2 L446.1 614.2Z" fill="#2b2522"/>
<path d="M447.4 847.8 L446.1 841.8 L448.7 841.8Z" fill="#2b2522"/>
<line x1="447.4" y1="848.4" x2="568.5" y2="848.4" stroke="#2b2522" stroke-width="1.7"/>
<text x="0" y="0" transform="translate(442.8 739.69) rotate(-90) scale(0.84 1)" font-size="24.42" fill="#666666" textLength="29.43" lengthAdjust="spacing">82</text>
<line x1="447" y1="864.7" x2="565.6" y2="864.7" stroke="#2b2522" stroke-width="1.7"/>
<line x1="447" y1="867" x2="447" y2="909.8" stroke="#2b2522" stroke-width="1.7"/>
<path d="M447 865.3 L448.3 871.3 L445.7 871.3Z" fill="#2b2522"/>
<text x="0" y="0" transform="translate(442.8 894.91) rotate(-90) scale(0.99 1)" font-size="22.97" fill="#666666">5</text>
<line x1="514.9" y1="606" x2="514.9" y2="656" stroke="#2b2522" stroke-width="1.7"/>
<line x1="713.4" y1="600" x2="713.4" y2="656" stroke="#2b2522" stroke-width="1.7"/>
<line x1="514.9" y1="656" x2="785" y2="656" stroke="#2b2522" stroke-width="1.7"/>
<path d="M515.5 656 L521.5 654.7 L521.5 657.3Z" fill="#2b2522"/>
<path d="M712.8 656 L706.8 657.3 L706.8 654.7Z" fill="#2b2522"/>
<ellipse cx="756.73" cy="641.09" rx="7.66" ry="6.65" fill="none" stroke="#666666" stroke-width="1.93"/>
<line x1="756.73" y1="629.42" x2="756.73" y2="654.18" stroke="#666666" stroke-width="2.02"/>
<text x="0" y="0" transform="translate(767.75 648.7) scale(0.84 1)" font-size="29.51" fill="#666666" textLength="35.23" lengthAdjust="spacing">67</text>
<line x1="790.4" y1="278" x2="790.4" y2="499.2" stroke="#2b2522" stroke-width="1.7"/>
<path d="M790.4 277.4 L791.7 283.4 L789.1 283.4Z" fill="#2b2522"/>
<path d="M790.4 498.6 L789.1 492.6 L791.7 492.6Z" fill="#2b2522"/>
<text x="0" y="0" transform="translate(788.4 400.41) rotate(-90) scale(0.84 1)" font-size="23.55" fill="#666666" textLength="28.62" lengthAdjust="spacing">75</text>
<line x1="916.4" y1="274" x2="916.4" y2="864.7" stroke="#2b2522" stroke-width="1.7"/>
<path d="M916.4 274 L917.7 280 L915.1 280Z" fill="#2b2522"/>
<path d="M916.4 864.1 L915.1 858.1 L917.7 858.1Z" fill="#2b2522"/>
<line x1="651.6" y1="864.7" x2="917" y2="864.7" stroke="#2b2522" stroke-width="1.7"/>
<text x="0" y="0" transform="translate(908.7 603.53) rotate(-90) scale(0.84 1)" font-size="23.98" fill="#666666" textLength="43.2" lengthAdjust="spacing">199</text>
<line x1="735.4" y1="499.2" x2="790.4" y2="499.2" stroke="#2b2522" stroke-width="1.7"/>
<line x1="735.4" y1="509.6" x2="775.5" y2="509.6" stroke="#2b2522" stroke-width="1.7"/>
<line x1="775.5" y1="430" x2="775.5" y2="522.6" stroke="#2b2522" stroke-width="1.7"/>
<path d="M775.5 498.6 L774.2 492.6 L776.8 492.6Z" fill="#2b2522"/>
<path d="M775.5 510.2 L776.8 516.2 L774.2 516.2Z" fill="#2b2522"/>
<text x="0" y="0" transform="translate(772.8 484.78) rotate(-90) scale(0.84 1)" font-size="24.42" fill="#666666" textLength="53.31" lengthAdjust="spacing">3.50</text>
<line x1="749.8" y1="521" x2="799.5" y2="521" stroke="#2b2522" stroke-width="1.7"/>
<line x1="749.8" y1="534.6" x2="799.5" y2="534.6" stroke="#2b2522" stroke-width="1.7"/>
<line x1="798" y1="508" x2="798" y2="520.4" stroke="#2b2522" stroke-width="1.7"/>
<line x1="798" y1="535.2" x2="798" y2="575" stroke="#2b2522" stroke-width="1.7"/>
<path d="M798 520.4 L796.7 514.4 L799.3 514.4Z" fill="#2b2522"/>
<path d="M798 535.2 L799.3 541.2 L796.7 541.2Z" fill="#2b2522"/>
<text x="0" y="0" transform="translate(796.2 571.27) rotate(-90) scale(0.84 1)" font-size="22.82" fill="#666666" textLength="34.97" lengthAdjust="spacing">M5</text>
<line x1="710" y1="489.5" x2="733.6" y2="489.5" stroke="#2b2522" stroke-width="1.7"/>
<path d="M709 489.5 L715 488.2 L715 490.8Z" fill="#2b2522"/>
<path d="M734.6 489.5 L728.6 490.8 L728.6 488.2Z" fill="#2b2522"/>
<text x="0" y="0" transform="translate(714 485.9) scale(0.91 1)" font-size="28.05" fill="#666666">9</text>
<path d="M558.3 694.6 Q614 690.6 669.4 694.6" fill="none" stroke="#2b2522" stroke-width="1.7" stroke-linejoin="round"/>
<path d="M558.3 694.6 L564.19 692.88 L564.38 695.48Z" fill="#2b2522"/>
<path d="M669.4 694.6 L663.32 695.48 L663.51 692.88Z" fill="#2b2522"/>
<text x="0" y="0" transform="translate(608.05 688.8) scale(0.84 1)" font-size="22.24" fill="#666666" textLength="25.2" lengthAdjust="spacing">6°</text>
<ellipse cx="583.6" cy="737.96" rx="5.78" ry="5.01" fill="none" stroke="#666666" stroke-width="1.45"/>
<line x1="583.6" y1="729.17" x2="583.6" y2="747.83" stroke="#666666" stroke-width="1.53"/>
<text x="0" y="0" transform="translate(592.15 743.7) scale(0.84 1)" font-size="22.24" fill="#666666" textLength="67.26" lengthAdjust="spacing">34.44</text>
<path d="M690 722.8 L671.2 731.9 L703.8 755.3" fill="none" stroke="#2b2522" stroke-width="2.0" stroke-linejoin="round"/>
<circle cx="682.8" cy="733.3" r="4.5" fill="none" stroke="#2b2522" stroke-width="2.6"/>
<text x="0" y="0" transform="translate(698.5 715.24) rotate(98) scale(0.84 1)" font-size="23.26" fill="#666666" textLength="35.25" lengthAdjust="spacing">0.8</text>
<line x1="576.6" y1="864.7" x2="576.6" y2="922" stroke="#2b2522" stroke-width="1.7"/>
<line x1="651.2" y1="864.7" x2="651.2" y2="922" stroke="#2b2522" stroke-width="1.7"/>
<line x1="576.6" y1="922" x2="651.2" y2="922" stroke="#2b2522" stroke-width="1.7"/>
<path d="M577 922 L583 920.7 L583 923.3Z" fill="#2b2522"/>
<path d="M650.8 922 L644.8 923.3 L644.8 920.7Z" fill="#2b2522"/>
<line x1="569.6" y1="864.7" x2="569.6" y2="948.8" stroke="#2b2522" stroke-width="1.7"/>
<line x1="658" y1="864.7" x2="658" y2="948.8" stroke="#2b2522" stroke-width="1.7"/>
<line x1="569.6" y1="948.8" x2="658" y2="948.8" stroke="#2b2522" stroke-width="1.7"/>
<path d="M570 948.8 L576 947.5 L576 950.1Z" fill="#2b2522"/>
<path d="M657.6 948.8 L651.6 950.1 L651.6 947.5Z" fill="#2b2522"/>
<line x1="565.4" y1="864.7" x2="565.4" y2="974" stroke="#2b2522" stroke-width="1.7"/>
<line x1="662.8" y1="864.7" x2="662.8" y2="974" stroke="#2b2522" stroke-width="1.7"/>
<line x1="565.4" y1="974" x2="662.8" y2="974" stroke="#2b2522" stroke-width="1.7"/>
<path d="M565.8 974 L571.8 972.7 L571.8 975.3Z" fill="#2b2522"/>
<path d="M662.4 974 L656.4 975.3 L656.4 972.7Z" fill="#2b2522"/>
<ellipse cx="588.8" cy="908.6" rx="6.04" ry="5.24" fill="none" stroke="#666666" stroke-width="1.52"/>
<line x1="588.8" y1="899.4" x2="588.8" y2="918.92" stroke="#666666" stroke-width="1.6"/>
<text x="0" y="0" transform="translate(597.5 914.6) scale(0.84 1)" font-size="23.26" fill="#666666" textLength="51.46" lengthAdjust="spacing">24.9</text>
<ellipse cx="588.8" cy="937.4" rx="6.04" ry="5.24" fill="none" stroke="#666666" stroke-width="1.52"/>
<line x1="588.8" y1="928.2" x2="588.8" y2="947.72" stroke="#666666" stroke-width="1.6"/>
<text x="0" y="0" transform="translate(597.5 943.4) scale(0.84 1)" font-size="23.26" fill="#666666" textLength="52.81" lengthAdjust="spacing">29.6</text>
<ellipse cx="588.63" cy="962.35" rx="5.89" ry="5.11" fill="none" stroke="#666666" stroke-width="1.48"/>
<line x1="588.63" y1="953.38" x2="588.63" y2="972.41" stroke="#666666" stroke-width="1.56"/>
<text x="0" y="0" transform="translate(597.34 968.2) scale(0.84 1)" font-size="22.67" fill="#666666" textLength="52.97" lengthAdjust="spacing">32.6</text>
<text x="0" y="0" transform="translate(726.58 740.8) scale(0.86 1)" font-size="34.3" fill="#666666" textLength="135.62" lengthAdjust="spacing">section</text>
<text x="0" y="0" transform="translate(851.37 740.8) scale(0.9 1)" font-size="34.3" fill="#666666" textLength="62.07" lengthAdjust="spacing">B-B</text>
</svg></body></html>
